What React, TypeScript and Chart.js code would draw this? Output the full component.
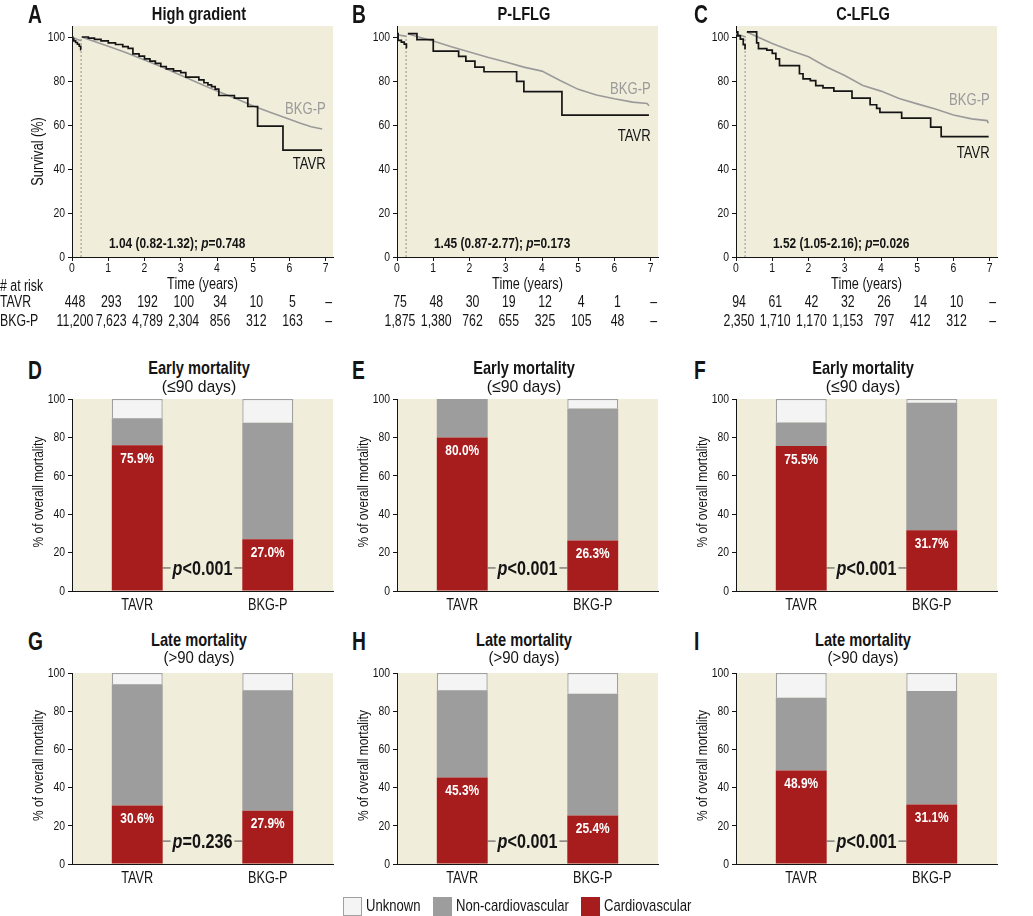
import React, { useEffect, useRef } from 'react';
import { Chart, registerables } from 'chart.js';
Chart.register(...registerables);

// ---------------- DATA ----------------
const X_TICKS = [0, 1, 2, 3, 4, 5, 6, 7];
const KM_Y_TICKS = [0, 20, 40, 60, 80, 100];
const BAR_Y_TICKS = [0, 20, 40, 60, 80, 100];
const LANDMARK = 0.25; // 90 days, in years

const KM_TITLES = ['High gradient', 'P-LFLG', 'C-LFLG'];
const GROUPS = ['TAVR', 'BKG-P'];
const RISK_LABELS = ['TAVR', 'BKG-P'];
const LEGEND_NAMES = ['Unknown', 'Non-cardiovascular', 'Cardiovascular'];

// Panel A - High gradient
const A_TAVR_EARLY = [[0, 100], [0.02, 99], [0.05, 98.2], [0.1, 97.5], [0.15, 96.7], [0.2, 95.8], [0.24, 94.2], [0.25, 94.2]];
const A_TAVR_LATE = [[0.27, 100], [0.45, 99.5], [0.62, 98.9], [0.8, 98.2], [1.0, 97.3], [1.2, 96.6], [1.4, 95.6], [1.55, 94.8], [1.68, 92.3], [1.85, 91.3], [2.0, 90.1], [2.15, 89], [2.3, 88], [2.45, 86.6], [2.6, 85.5], [2.8, 84.6], [3.0, 83.8], [3.14, 81.8], [3.5, 80.5], [3.64, 79.2], [3.75, 78.2], [3.85, 77.4], [3.95, 76.3], [4.05, 73.4], [4.48, 72.2], [4.85, 68.4], [5.12, 59.5], [5.82, 48.6], [6.9, 48.6]];
const A_BKG_EARLY = [[0, 100], [0.1, 99.2], [0.25, 98.3]];
const A_BKG_LATE = [[0.27, 100], [0.5, 98.6], [1, 95.8], [1.5, 92.8], [2, 89.6], [2.5, 86.2], [3, 82.6], [3.5, 79], [4, 75.4], [4.5, 72.2], [5, 68.6], [5.5, 65.6], [6, 62.6], [6.3, 60.8], [6.6, 59.2], [6.9, 58.2]];
const A_RISK_TAVR = ['448', '293', '192', '100', '34', '10', '5', '–'];
const A_RISK_BKG = ['11,200', '7,623', '4,789', '2,304', '856', '312', '163', '–'];
const A_HR = '1.04 (0.82-1.32)';
const A_P = '=0.748';

// Panel B - P-LFLG
const B_TAVR_EARLY = [[0, 101.5], [0.03, 98.5], [0.12, 97.7], [0.2, 96.8], [0.26, 95], [0.27, 95]];
const B_TAVR_LATE = [[0.3, 101.5], [0.55, 98.8], [1.0, 93.6], [1.7, 91.2], [1.9, 89], [2.15, 86.3], [2.4, 84.2], [3.3, 79.8], [3.5, 75.2], [4.55, 64.5], [6.95, 64.5]];
const B_BKG_EARLY = [[0, 101], [0.27, 100.3]];
const B_BKG_LATE = [[0.3, 101.5], [0.5, 100.5], [1, 98.2], [1.5, 95.6], [2, 93.2], [2.5, 90.8], [3, 88.6], [3.5, 86.3], [4, 84.5], [4.5, 80.2], [5, 76.2], [5.5, 73.6], [6, 71.9], [6.5, 70.4], [6.9, 69.8], [6.95, 68.8]];
const B_RISK_TAVR = ['75', '48', '30', '19', '12', '4', '1', '–'];
const B_RISK_BKG = ['1,875', '1,380', '762', '655', '325', '105', '48', '–'];
const B_HR = '1.45 (0.87-2.77)';
const B_P = '=0.173';

// Panel C - C-LFLG
const C_TAVR_EARLY = [[0, 102.3], [0.05, 100.5], [0.12, 99], [0.2, 96.5], [0.25, 94.7], [0.27, 94.7]];
const C_TAVR_LATE = [[0.3, 102.3], [0.57, 97.3], [0.62, 94.7], [0.85, 94], [1.0, 92.6], [1.1, 90.1], [1.2, 87], [1.75, 83.3], [1.85, 81], [2.05, 80.2], [2.2, 77.9], [2.4, 76.9], [2.7, 75.4], [3.2, 72.2], [3.7, 69.2], [3.88, 67.6], [3.97, 65.7], [4.57, 63.1], [5.37, 59], [5.66, 54.7], [6.97, 54.7]];
const C_BKG_EARLY = [[0, 101.5], [0.27, 100]];
const C_BKG_LATE = [[0.3, 102.3], [0.6, 100], [1, 97], [1.5, 93.9], [2, 91], [2.5, 86.4], [3, 82.5], [3.5, 78], [4, 75.4], [4.5, 72], [5, 69.6], [5.5, 67.3], [6, 64.5], [6.5, 62.8], [6.93, 62], [6.96, 60.8]];
const C_RISK_TAVR = ['94', '61', '42', '32', '26', '14', '10', '–'];
const C_RISK_BKG = ['2,350', '1,710', '1,170', '1,153', '797', '412', '312', '–'];
const C_HR = '1.52 (1.05-2.16)';
const C_P = '=0.026';

// Mortality bars: [TAVR, BKG-P]
const D_CARDIO = [75.9, 27.0];
const D_NONCARDIO = [14.1, 60.6];
const D_UNKNOWN = [10.0, 12.4];
const D_P = '<0.001';

const E_CARDIO = [80.0, 26.3];
const E_NONCARDIO = [20.0, 68.8];
const E_UNKNOWN = [0, 4.9];
const E_P = '<0.001';

const F_CARDIO = [75.5, 31.7];
const F_NONCARDIO = [12.3, 66.4];
const F_UNKNOWN = [12.2, 1.9];
const F_P = '<0.001';

const G_CARDIO = [30.6, 27.9];
const G_NONCARDIO = [63.5, 63.1];
const G_UNKNOWN = [5.9, 9.0];
const G_P = '=0.236';

const H_CARDIO = [45.3, 25.4];
const H_NONCARDIO = [45.7, 63.7];
const H_UNKNOWN = [9.0, 10.9];
const H_P = '<0.001';

const I_CARDIO = [48.9, 31.1];
const I_NONCARDIO = [38.1, 59.5];
const I_UNKNOWN = [13.0, 9.4];
const I_P = '<0.001';

// ---------------- STYLE / LAYOUT ----------------
const BASE = '"Liberation Sans", Arial, "DejaVu Sans", sans-serif';
const SX = 0.77; // horizontal condensing of text
const BG = '#f1eddb';
const RED = '#a71c1c';
const GREY_BAR = '#9d9d9d';
const GREY_LINE = '#9a9a9a';
const UNK_FILL = '#f4f4f4';
const UNK_BORDER = '#a0a0a0';
const INK = '#141414';

const COL_PLOT_LEFT = [72, 397, 736];
const PLOT_W = 261;
const Y_AXIS_W = 72;
const RIGHT_PAD = 8;
const KM_ROW = { top: 26, bottom: 257 };
const EARLY_ROW = { top: 399, bottom: 591 };
const LATE_ROW = { top: 673, bottom: 864 };
const KM_X_MAX = 7.2;
const KM_Y_MAX = 105;
const P_LINE_LEVEL = 12;
const LABEL_DROP = 7;
const HR_POS = { x: 2.9, y: 6 };
const KM_LABEL_X = 7.0;
const KM_LABEL_Y = [[67.3, 42.3], [76.2, 55], [71, 47.3]];

type Part = [string, boolean];
interface TOpts { bold?: boolean; italic?: boolean; align?: 'center' | 'left' | 'right'; color?: string; }

const fontStr = (size: number, bold?: boolean, italic?: boolean) => `${italic ? 'italic ' : ''}${bold ? 'bold ' : ''}${size}px ${BASE}`;

function textW(ctx: CanvasRenderingContext2D, t: string, size: number, bold?: boolean, italic?: boolean) {
  ctx.font = fontStr(size, bold, italic);
  return ctx.measureText(t).width * SX;
}

function drawT(ctx: CanvasRenderingContext2D, t: string, x: number, y: number, size: number, o: TOpts = {}) {
  const w = textW(ctx, t, size, o.bold, o.italic);
  const align = o.align || 'center';
  const left = align === 'center' ? x - w / 2 : align === 'right' ? x - w : x;
  ctx.save();
  ctx.font = fontStr(size, o.bold, o.italic);
  ctx.fillStyle = o.color || INK;
  ctx.textAlign = 'left';
  ctx.textBaseline = 'middle';
  ctx.translate(left, y);
  ctx.scale(SX, 1);
  ctx.fillText(t, 0, 0);
  ctx.restore();
  return w;
}

function richW(ctx: CanvasRenderingContext2D, parts: Part[], size: number, bold: boolean) {
  return parts.reduce((s, [t, it]) => s + textW(ctx, t, size, bold, it), 0);
}

function drawRich(ctx: CanvasRenderingContext2D, parts: Part[], cx: number, cy: number, size: number, bold: boolean) {
  let x = cx - richW(ctx, parts, size, bold) / 2;
  parts.forEach(([t, it]) => {
    x += drawT(ctx, t, x, cy, size, { bold, italic: it, align: 'left' });
  });
}

function drawVerticalTitle(ctx: CanvasRenderingContext2D, text: string, x: number, y: number, size: number) {
  ctx.save();
  ctx.translate(x, y);
  ctx.rotate(-Math.PI / 2);
  drawT(ctx, text, 0, 0, size);
  ctx.restore();
}

const bgPlugin = {
  id: 'bgFill',
  beforeDraw(chart: any) {
    const { ctx, chartArea: a } = chart;
    ctx.save();
    ctx.fillStyle = BG;
    ctx.fillRect(a.left, a.top, a.right - a.left, a.bottom - a.top);
    ctx.restore();
  },
};

function axisCommon(afterFit: (s: any) => void) {
  return {
    grid: { display: true, drawOnChartArea: false, drawTicks: true, tickLength: 4, color: INK, lineWidth: 1 },
    border: { display: true, color: INK, width: 1 },
    ticks: { display: false, autoSkip: false },
    afterFit,
  };
}

function drawYTicks(ctx: CanvasRenderingContext2D, chart: any, ticks: number[]) {
  const { chartArea: a, scales } = chart;
  ticks.forEach((v) => drawT(ctx, String(v), a.left - 7, scales.y.getPixelForValue(v), 13.5, { align: 'right' }));
}

interface KMPanel {
  tavrEarly: number[][]; tavrLate: number[][]; bkgEarly: number[][]; bkgLate: number[][];
  riskT: string[]; riskB: string[]; hr: string; p: string; labelY: number[]; first: boolean;
}

const KM_PANELS: KMPanel[] = [
  { tavrEarly: A_TAVR_EARLY, tavrLate: A_TAVR_LATE, bkgEarly: A_BKG_EARLY, bkgLate: A_BKG_LATE, riskT: A_RISK_TAVR, riskB: A_RISK_BKG, hr: A_HR, p: A_P, labelY: KM_LABEL_Y[0], first: true },
  { tavrEarly: B_TAVR_EARLY, tavrLate: B_TAVR_LATE, bkgEarly: B_BKG_EARLY, bkgLate: B_BKG_LATE, riskT: B_RISK_TAVR, riskB: B_RISK_BKG, hr: B_HR, p: B_P, labelY: KM_LABEL_Y[1], first: false },
  { tavrEarly: C_TAVR_EARLY, tavrLate: C_TAVR_LATE, bkgEarly: C_BKG_EARLY, bkgLate: C_BKG_LATE, riskT: C_RISK_TAVR, riskB: C_RISK_BKG, hr: C_HR, p: C_P, labelY: KM_LABEL_Y[2], first: false },
];

interface BarPanel { cardio: number[]; non: number[]; unk: number[]; p: string; }
const EARLY_PANELS: BarPanel[] = [
  { cardio: D_CARDIO, non: D_NONCARDIO, unk: D_UNKNOWN, p: D_P },
  { cardio: E_CARDIO, non: E_NONCARDIO, unk: E_UNKNOWN, p: E_P },
  { cardio: F_CARDIO, non: F_NONCARDIO, unk: F_UNKNOWN, p: F_P },
];
const LATE_PANELS: BarPanel[] = [
  { cardio: G_CARDIO, non: G_NONCARDIO, unk: G_UNKNOWN, p: G_P },
  { cardio: H_CARDIO, non: H_NONCARDIO, unk: H_UNKNOWN, p: H_P },
  { cardio: I_CARDIO, non: I_NONCARDIO, unk: I_UNKNOWN, p: I_P },
];

const KM_TOP_PAD = 6;
const KM_CANVAS_TOP = KM_ROW.top - KM_TOP_PAD;
const KM_CANVAS_H = 320;
const KM_X_H = KM_CANVAS_H - KM_TOP_PAD - (KM_ROW.bottom - KM_ROW.top);
const BAR_TOP_PAD = 8;
const BAR_X_H = 24;

const toPts = (a: number[][]) => a.map(([x, y]) => ({ x, y }));

function kmConfig(p: KMPanel): any {
  // Chart.js 'before' = horizontal run, then vertical drop at the next event time
  const black = { borderColor: INK, borderWidth: 1.7, stepped: 'before', pointRadius: 0, fill: false, order: 0 };
  const grey = { borderColor: GREY_LINE, borderWidth: 1.6, pointRadius: 0, fill: false, tension: 0, order: 1 };
  const deco = {
    id: 'kmDeco',
    afterDraw(chart: any) {
      const { ctx, chartArea: a, scales } = chart;
      const x = scales.x, y = scales.y;
      ctx.save();
      drawYTicks(ctx, chart, KM_Y_TICKS);
      X_TICKS.forEach((t) => drawT(ctx, String(t), x.getPixelForValue(t), a.bottom + 11, 13.5));
      drawRich(ctx, [[p.hr + '; ', false], ['p', true], [p.p, false]], x.getPixelForValue(HR_POS.x), y.getPixelForValue(HR_POS.y), 15.5, true);
      const lx = x.getPixelForValue(KM_LABEL_X);
      drawT(ctx, 'BKG-P', lx, y.getPixelForValue(p.labelY[0]), 17, { align: 'right', color: GREY_LINE });
      drawT(ctx, 'TAVR', lx, y.getPixelForValue(p.labelY[1]), 17, { align: 'right' });
      drawT(ctx, 'Time (years)', (a.left + a.right) / 2, a.bottom + 27, 16.5);
      X_TICKS.forEach((t, i) => {
        const px = x.getPixelForValue(t) + 3;
        drawT(ctx, p.riskT[i], px, a.bottom + 46, 16);
        drawT(ctx, p.riskB[i], px, a.bottom + 65, 16);
      });
      if (p.first) {
        drawT(ctx, '# at risk', 0, a.bottom + 30, 16, { align: 'left' });
        drawT(ctx, RISK_LABELS[0], 0, a.bottom + 46, 16, { align: 'left' });
        drawT(ctx, RISK_LABELS[1], 0, a.bottom + 65, 16, { align: 'left' });
        drawVerticalTitle(ctx, 'Survival (%)', a.left - 34, y.getPixelForValue(48), 16.5);
      }
      ctx.restore();
    },
  };
  return {
    type: 'line',
    data: {
      datasets: [
        { data: toPts(p.tavrEarly), ...black },
        { data: toPts(p.tavrLate), ...black },
        { data: toPts(p.bkgEarly), ...grey },
        { data: toPts(p.bkgLate), ...grey },
        { data: [{ x: LANDMARK, y: 0 }, { x: LANDMARK, y: 100 }], borderColor: '#7a7a7a', borderWidth: 0.8, borderDash: [2, 2], pointRadius: 0, order: 2 },
      ],
    },
    options: {
      animation: false,
      responsive: false,
      events: [],
      layout: { padding: { left: 0, right: RIGHT_PAD, top: KM_TOP_PAD, bottom: 0 } },
      plugins: { legend: { display: false }, tooltip: { enabled: false } },
      scales: {
        x: {
          type: 'linear', min: 0, max: KM_X_MAX,
          afterBuildTicks: (s: any) => { s.ticks = X_TICKS.map((v) => ({ value: v })); },
          ...axisCommon((s: any) => { s.height = KM_X_H; }),
        },
        y: {
          type: 'linear', min: 0, max: KM_Y_MAX,
          afterBuildTicks: (s: any) => { s.ticks = KM_Y_TICKS.map((v) => ({ value: v })); },
          ...axisCommon((s: any) => { s.width = Y_AXIS_W; }),
        },
      },
    },
    plugins: [bgPlugin, deco],
  };
}

function barConfig(p: BarPanel): any {
  const deco = {
    id: 'barDeco',
    afterDraw(chart: any) {
      const { ctx, chartArea: a, scales } = chart;
      const y = scales.y, x = scales.x;
      const meta = chart.getDatasetMeta(0);
      const b0 = meta.data[0], b1 = meta.data[1];
      ctx.save();
      drawYTicks(ctx, chart, BAR_Y_TICKS);
      GROUPS.forEach((g, i) => drawT(ctx, g, x.getPixelForValue(i), a.bottom + 14, 16.5));
      p.cardio.forEach((v, i) => {
        const b = meta.data[i];
        drawT(ctx, `${v.toFixed(1)}%`, b.x, y.getPixelForValue(v - LABEL_DROP), 15.5, { bold: true, color: '#ffffff' });
      });
      const ly = y.getPixelForValue(P_LINE_LEVEL);
      const x0 = b0.x + b0.width / 2, x1 = b1.x - b1.width / 2;
      ctx.strokeStyle = '#4a4a4a';
      ctx.lineWidth = 1;
      ctx.beginPath();
      ctx.moveTo(x0, ly);
      ctx.lineTo(x1, ly);
      ctx.stroke();
      const parts: Part[] = [['p', true], [p.p, false]];
      const total = richW(ctx, parts, 21, true);
      const mid = (x0 + x1) / 2;
      ctx.fillStyle = BG;
      ctx.fillRect(mid - total / 2 - 2, ly - 11, total + 4, 22);
      drawRich(ctx, parts, mid, ly + 1, 21, true);
      drawVerticalTitle(ctx, '% of overall mortality', a.left - 33, (a.top + a.bottom) / 2 - 3, 15.5);
      ctx.restore();
    },
  };
  return {
    type: 'bar',
    data: {
      labels: GROUPS,
      datasets: [
        { label: LEGEND_NAMES[2], data: p.cardio, backgroundColor: RED, borderWidth: 0 },
        { label: LEGEND_NAMES[1], data: p.non, backgroundColor: GREY_BAR, borderWidth: 0 },
        { label: LEGEND_NAMES[0], data: p.unk, backgroundColor: UNK_FILL, borderColor: UNK_BORDER, borderWidth: 1.3 },
      ],
    },
    options: {
      animation: false,
      responsive: false,
      events: [],
      datasets: { bar: { categoryPercentage: 1, barPercentage: 0.39 } },
      layout: { padding: { left: 0, right: RIGHT_PAD, top: BAR_TOP_PAD, bottom: 0 } },
      plugins: { legend: { display: false }, tooltip: { enabled: false } },
      scales: {
        x: {
          stacked: true,
          grid: { display: false, drawTicks: false },
          border: { display: true, color: INK, width: 1 },
          ticks: { display: false },
          afterFit: (s: any) => { s.height = BAR_X_H; },
        },
        y: {
          stacked: true, min: 0, max: 100,
          afterBuildTicks: (s: any) => { s.ticks = BAR_Y_TICKS.map((v) => ({ value: v })); },
          ...axisCommon((s: any) => { s.width = Y_AXIS_W; }),
        },
      },
    },
    plugins: [bgPlugin, deco],
  };
}

function ChartBox({ make, left, top, width, height }: { make: () => any; left: number; top: number; width: number; height: number }) {
  const ref = useRef<HTMLCanvasElement>(null);
  useEffect(() => {
    const chart = new Chart(ref.current as HTMLCanvasElement, make());
    return () => chart.destroy();
  }, []);
  return <canvas ref={ref} width={width} height={height} style={{ position: 'absolute', left, top, width, height }} />;
}

function Text({ x, y, size, bold, children, align = 'center', sx = SX }: any) {
  return (
    <div
      style={{
        position: 'absolute', left: x, top: y - size * 0.6, fontFamily: BASE, fontSize: size, lineHeight: `${size * 1.2}px`,
        fontWeight: bold ? 'bold' : 'normal', color: INK, whiteSpace: 'nowrap',
        transformOrigin: align === 'center' ? '50% 50%' : '0 50%',
        transform: align === 'center' ? `translateX(-50%) scaleX(${sx})` : `scaleX(${sx})`,
      }}
    >
      {children}
    </div>
  );
}

const LETTERS = [['A', 'B', 'C'], ['D', 'E', 'F'], ['G', 'H', 'I']];
const LETTER_X = [28, 352, 694];
const LETTER_Y = [14, 370, 641];
const LEGEND_FILL = [UNK_FILL, GREY_BAR, RED];
const LEGEND_BORDER = [UNK_BORDER, GREY_BAR, RED];
const LEGEND_BOX_X = [343, 433, 581];
const LEGEND_Y = 906;

export default function App() {
  const canvasW = Y_AXIS_W + PLOT_W + RIGHT_PAD;
  const barH = (row: { top: number; bottom: number }) => BAR_TOP_PAD + (row.bottom - row.top) + BAR_X_H;
  return (
    <div style={{ position: 'absolute', left: 0, top: 0, width: 1033, height: 916, background: '#fff', overflow: 'hidden' }}>
      {KM_PANELS.map((p, i) => (
        <ChartBox key={'km' + i} make={() => kmConfig(p)} left={COL_PLOT_LEFT[i] - Y_AXIS_W} top={KM_CANVAS_TOP} width={canvasW} height={KM_CANVAS_H} />
      ))}
      {EARLY_PANELS.map((p, i) => (
        <ChartBox key={'e' + i} make={() => barConfig(p)} left={COL_PLOT_LEFT[i] - Y_AXIS_W} top={EARLY_ROW.top - BAR_TOP_PAD} width={canvasW} height={barH(EARLY_ROW)} />
      ))}
      {LATE_PANELS.map((p, i) => (
        <ChartBox key={'l' + i} make={() => barConfig(p)} left={COL_PLOT_LEFT[i] - Y_AXIS_W} top={LATE_ROW.top - BAR_TOP_PAD} width={canvasW} height={barH(LATE_ROW)} />
      ))}
      {LETTERS.map((row, r) => row.map((L, c) => (
        <Text key={L} x={LETTER_X[c]} y={LETTER_Y[r]} size={25} bold align="left">{L}</Text>
      )))}
      {KM_TITLES.map((t, c) => (
        <Text key={t} x={COL_PLOT_LEFT[c] + PLOT_W / 2 - 4} y={14} size={19} bold>{t}</Text>
      ))}
      {[0, 1, 2].map((c) => (
        <React.Fragment key={'tt' + c}>
          <Text x={COL_PLOT_LEFT[c] + PLOT_W / 2 - 4} y={368} size={19} bold>Early mortality</Text>
          <Text x={COL_PLOT_LEFT[c] + PLOT_W / 2 - 4} y={387} size={17} sx={0.93}>(≤90 days)</Text>
          <Text x={COL_PLOT_LEFT[c] + PLOT_W / 2 - 4} y={640} size={19} bold>Late mortality</Text>
          <Text x={COL_PLOT_LEFT[c] + PLOT_W / 2 - 4} y={658} size={17} sx={0.88}>(&gt;90 days)</Text>
        </React.Fragment>
      ))}
      {LEGEND_NAMES.map((name, i) => (
        <React.Fragment key={name}>
          <div style={{ position: 'absolute', left: LEGEND_BOX_X[i], top: LEGEND_Y - 9, width: 17, height: 17, background: LEGEND_FILL[i], border: `1px solid ${LEGEND_BORDER[i]}` }} />
          <Text x={LEGEND_BOX_X[i] + 23} y={LEGEND_Y} size={17} align="left">{name}</Text>
        </React.Fragment>
      ))}
    </div>
  );
}
